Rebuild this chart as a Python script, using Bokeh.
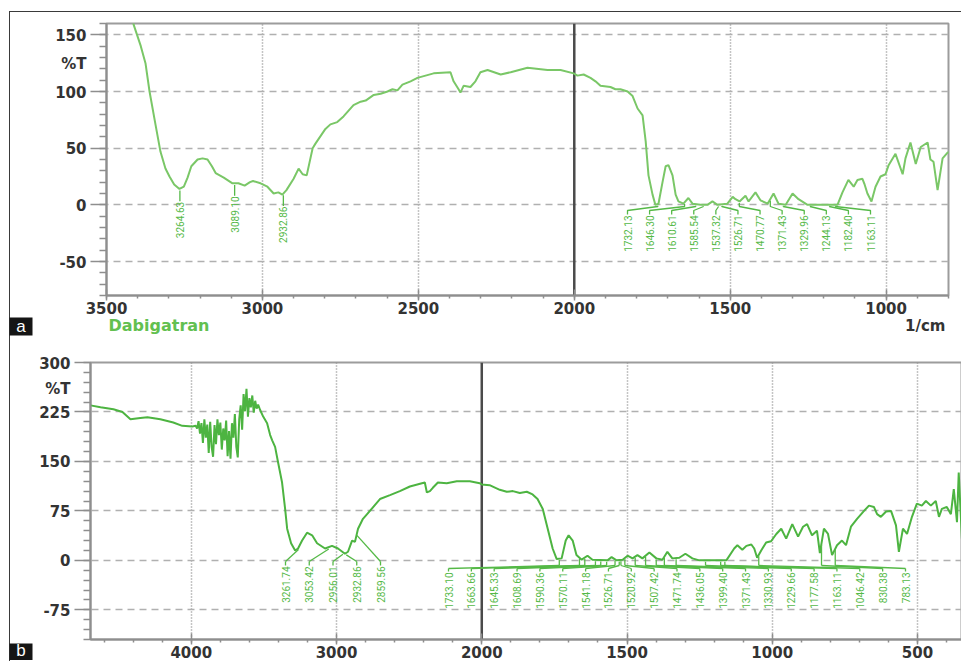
import numpy as np
from bokeh.plotting import figure
from bokeh.models import (ColumnDataSource, FixedTicker, Span, Range1d,
                          CustomJSTransform, CustomJSTickFormatter)
from bokeh.transform import transform
from bokeh.core.properties import value
from bokeh.embed import file_html
from bokeh.resources import INLINE

# ---------------- data: panel a (Dabigatran) ----------------
a_wn = [3440, 3413, 3390, 3375, 3362, 3343, 3327, 3311, 3298, 3283,
        3266, 3252, 3240, 3228, 3208, 3192, 3176, 3162, 3150, 3124,
        3096, 3077, 3057, 3040, 3030, 3006, 2984, 2964, 2949, 2936,
        2923, 2900, 2884, 2871, 2858, 2839, 2830, 2798, 2782, 2760,
        2740, 2708, 2685, 2669, 2643, 2621, 2599, 2583, 2567, 2551,
        2525, 2503, 2451, 2397, 2387, 2371, 2365, 2355, 2333, 2317,
        2301, 2278, 2236, 2204, 2150, 2086, 2044, 2002, 1990, 1970,
        1948, 1932, 1916, 1884, 1868, 1852, 1829, 1813, 1797, 1781,
        1771, 1762, 1749, 1740, 1730, 1717, 1707, 1698, 1685, 1675,
        1666, 1650, 1634, 1621, 1595, 1573, 1557, 1541, 1509, 1492,
        1483, 1470, 1451, 1441, 1419, 1403, 1380, 1361, 1345, 1322,
        1300, 1281, 1252, 1156, 1140, 1121, 1104, 1092, 1076, 1069,
        1060, 1047, 1034, 1018, 1002, 992, 970, 947, 938, 922,
        905, 889, 867, 858, 848, 835, 819, 803, 795]
a_t = [195, 159, 140, 125, 100, 71, 47, 32, 25, 18,
       14, 16, 24, 34, 40, 41, 40, 34, 28, 24,
       19, 19, 17, 20, 21, 19, 16, 10, 11, 9,
       13, 23, 32, 27, 26, 50, 54, 67, 71, 73,
       78, 88, 91, 92, 97, 98, 100, 102, 101, 106,
       109, 112, 116, 117, 109, 102, 99, 105, 104, 109,
       117, 119, 115, 117, 121, 119, 119, 116, 114, 115,
       112, 109, 105, 104, 102, 102, 100, 96, 85, 79,
       56, 26, 9, 0, 1, 20, 34, 35, 26, 9,
       3, 1, 6, 1, 0, 0, 3, 0, 1, 7,
       5, 3, 8, 3, 11, 4, 1, 10, 1, 0,
       10, 5, 0, 0, 11, 22, 16, 22, 23, 18,
       10, 3, 16, 25, 27, 35, 45, 27, 41, 55,
       36, 51, 55, 40, 38, 13, 41, 46, 47]
a_peaks_left = [3264.63, 3089.10, 2932.86]
a_peaks_right = [1732.13, 1646.30, 1610.61, 1585.54, 1537.32, 1526.71,
                 1470.77, 1371.43, 1329.96, 1244.13, 1182.40, 1163.11]
a_xticks = [3500, 3000, 2500, 2000, 1500, 1000]
a_yticks = [-50, 0, 50, 100, 150]
a_name = "Dabigatran"
x_unit = "1/cm"
y_unit = "%T"

# ---------------- data: panel b ----------------
b_wn = [4694, 4625, 4536, 4474, 4419, 4351, 4302, 4213, 4124, 4062,
        3993, 3970, 3960, 3950, 3940, 3930, 3920, 3910, 3900, 3890,
        3880, 3870, 3860, 3850, 3840, 3830, 3820, 3810, 3800, 3790,
        3780, 3770, 3760, 3750, 3740, 3730, 3720, 3710, 3700, 3690,
        3680, 3670, 3660, 3650, 3640, 3630, 3620, 3610, 3600, 3590,
        3580, 3570, 3560, 3550, 3540, 3526, 3505, 3478, 3457, 3443,
        3423, 3402, 3375, 3354, 3340, 3313, 3285, 3265, 3237, 3203,
        3168, 3134, 3079, 3031, 2990, 2942, 2921, 2893, 2873, 2852,
        2818, 2770, 2701, 2632, 2564, 2495, 2412, 2392, 2378, 2357,
        2337, 2302, 2241, 2172, 2082, 2014, 2000, 1973, 1938, 1914,
        1893, 1869, 1845, 1825, 1808, 1790, 1773, 1756, 1742, 1725,
        1711, 1701, 1687, 1674, 1656, 1636, 1619, 1567, 1553, 1536,
        1515, 1498, 1481, 1464, 1447, 1423, 1399, 1378, 1361, 1344,
        1320, 1299, 1275, 1251, 1158, 1131, 1120, 1103, 1089, 1072,
        1062, 1052, 1038, 1021, 1004, 986, 969, 952, 931, 911,
        894, 880, 863, 846, 836, 822, 808, 794, 777, 760,
        746, 729, 708, 684, 667, 650, 639, 626, 608, 591,
        574, 564, 550, 536, 519, 502, 485, 471, 454, 437,
        426, 416, 399, 385, 375, 364, 358, 347]
b_t = [235, 232, 229, 225, 214, 216, 217, 214, 209, 204,
       203, 204, 200, 211, 192, 208, 178, 214, 186, 206,
       163, 210, 172, 157, 205, 176, 214, 190, 209, 168,
       200, 182, 212, 158, 196, 154, 208, 186, 222, 172,
       156, 214, 235, 198, 252, 226, 260, 218, 246, 232,
       250, 224, 242, 230, 236, 228, 218, 208, 190, 182,
       172, 148, 118, 78, 48, 26, 15, 18, 30, 42,
       38, 26, 18, 22, 18, 10, 13, 30, 28, 48,
       63, 75, 93, 99, 105, 112, 117, 118, 103, 105,
       110, 118, 117, 120, 120, 117, 115, 114, 107, 104,
       105, 102, 104, 100, 93, 78, 48, 18, 2, 3,
       30, 38, 30, 8, 1, 7, 1, 0, 5, 0,
       1, 7, 3, 8, 3, 12, 3, 1, 13, 3,
       4, 10, 3, 0, 0, 18, 23, 16, 22, 24,
       18, 4, 15, 27, 29, 40, 48, 33, 55, 36,
       51, 55, 38, 45, 11, 48, 40, 8, 23, 30,
       23, 51, 63, 75, 83, 81, 70, 66, 74, 75,
       53, 13, 48, 40, 66, 86, 83, 90, 83, 90,
       66, 78, 81, 70, 108, 58, 133, 33]
b_peaks_left = [3261.74, 3053.42, 2956.01, 2932.86, 2859.56]
b_peaks_right = [1733.10, 1663.66, 1645.33, 1608.69, 1590.36, 1570.11, 1541.18,
                 1526.71, 1520.92, 1507.42, 1471.74, 1436.05, 1399.40, 1371.43,
                 1330.93, 1229.66, 1177.58, 1163.11, 1046.42, 830.38, 783.13]
b_xticks = [4000, 3000, 2000, 1500, 1000, 500]
b_yticks = [-75, 0, 75, 150, 225, 300]
panel_tags = ["a", "b"]

# ---------------- styles ----------------
GREEN_A = "#7ac767"
GREEN_B = "#4db441"
LABEL_GREEN = "#55b947"
AXIS_GRAY = "#8e8e8e"
FRAME = "1px solid #3a3a3a"
TICK_FONT = "DejaVu Sans"
PEAK_FONT = "Roboto"

# page geometry (figures start at page x=10, y=12)
OX, OY = 10, 12
A_H, B_H, W = 324, 326, 952


def curve_at(w, wn, t):
    return float(np.interp(w, wn[::-1], t[::-1]))


def disp(w):
    # panel b uses the classic IR scale change at 2000 1/cm (x2 compression above)
    return 2000 + (w - 2000) / 2.0 if w > 2000 else w


ir_scale = CustomJSTransform(
    func="return x > 2000 ? 2000 + (x - 2000) / 2 : x;",
    v_func="const out = new Float64Array(xs.length); for (let i = 0; i < xs.length; i++) { const x = xs[i]; out[i] = x > 2000 ? 2000 + (x - 2000) / 2 : x; } return out;")


def style_axes(p):
    for ax in (p.xaxis[0], p.yaxis[0]):
        ax.axis_line_color = AXIS_GRAY
        ax.axis_line_width = 2
        ax.major_tick_line_color = AXIS_GRAY
        ax.major_tick_line_width = 1.5
        ax.minor_tick_line_color = AXIS_GRAY
        ax.minor_tick_line_width = 1.5
        ax.major_label_text_font = TICK_FONT
        ax.major_label_text_font_style = "bold"
        ax.major_label_text_font_size = "15px"
        ax.major_label_text_color = "#333333"
    xa = p.xaxis[0]
    xa.major_tick_in = 6
    xa.major_tick_out = 5
    xa.minor_tick_in = 0
    xa.minor_tick_out = 3
    xa.major_label_standoff = 1
    ya = p.yaxis[0]
    ya.major_tick_in = 0
    ya.major_tick_out = 16
    ya.minor_tick_in = 0
    ya.minor_tick_out = 7
    ya.major_label_standoff = 4
    ya.formatter = CustomJSTickFormatter(code="return String(Math.round(tick));")
    p.outline_line_color = "#9c9c9c"
    p.outline_line_width = 2
    p.xgrid.grid_line_color = "#8a8a8a"
    p.xgrid.grid_line_dash = "1 2"
    p.xgrid.grid_line_width = 1.5
    p.ygrid.grid_line_color = "#b0b0b0"
    p.ygrid.grid_line_dash = "7 5"
    p.ygrid.grid_line_width = 1.5


# ================= panel a =================
A_L, A_R, A_T, A_B = 106, 948, 23, 295
A_X0, A_X1, A_Y0, A_Y1 = 3500, 800, -80, 160
A_TOP = OY


def ax_(px):
    return A_X0 - (px - A_L) * (A_X0 - A_X1) / (A_R - A_L)


def ay_(py):
    return A_Y1 - (py - A_T) * (A_Y1 - A_Y0) / (A_B - A_T)


p1 = figure(width=W, height=A_H, x_range=Range1d(A_X0, A_X1), y_range=Range1d(A_Y0, A_Y1),
            output_backend="svg", toolbar_location=None,
            min_border_left=A_L - OX, min_border_right=OX + W - A_R,
            min_border_top=A_T - A_TOP, min_border_bottom=A_TOP + A_H - A_B,
            background_fill_color="white", border_fill_color="white")
style_axes(p1)
p1.xaxis.ticker = FixedTicker(ticks=a_xticks, minor_ticks=list(range(800, 3501, 100)))
p1.yaxis.ticker = FixedTicker(ticks=a_yticks, minor_ticks=list(range(-80, 161, 10)))
p1.xgrid.ticker = FixedTicker(ticks=[t for t in a_xticks if t not in (3500, 2000)])
p1.ygrid.ticker = FixedTicker(ticks=a_yticks)
p1.add_layout(Span(location=2000, dimension="height", line_color="#4a4a4a",
                   line_width=2.5, level="underlay"))

wn_a = np.array(a_wn, dtype=float)
t_a = np.array(a_t, dtype=float)
p1.line(x=a_wn, y=a_t, line_color=GREEN_A, line_width=2)

# left peak labels (directly under the minima)
ycl = [curve_at(w, wn_a, t_a) for w in a_peaks_left]
p1.multi_line(xs=[[w, w] for w in a_peaks_left],
              ys=[[y - 1.5, y - 11] for y in ycl], line_color=LABEL_GREEN, line_width=1.3)
p1.text(x=a_peaks_left, y=[y - 11.5 for y in ycl], text=[f"{w:.2f}" for w in a_peaks_left],
        angle=np.pi / 2, text_align="right", text_baseline="middle",
        text_font=value(PEAK_FONT), text_font_size="10px", text_color=LABEL_GREEN)

# right cluster (spread labels with leaders)
lx_a = np.linspace(ax_(627), ax_(870), len(a_peaks_right))
ycr = [curve_at(w, wn_a, t_a) for w in a_peaks_right]
p1.multi_line(xs=[[w, w, lx, lx] for w, lx in zip(a_peaks_right, lx_a)],
              ys=[[y - 1.5, ay_(206), ay_(210), ay_(214)] for y in ycr],
              line_color=LABEL_GREEN, line_width=1.3)
p1.text(x=list(lx_a), y=[ay_(215)] * len(lx_a), text=[f"{w:.2f}" for w in a_peaks_right],
        angle=np.pi / 2, text_align="right", text_baseline="middle",
        text_font=value(PEAK_FONT), text_font_size="10px", text_color=LABEL_GREEN)

# ================= panel b =================
B_L, B_R, B_T, B_B = 90, 962, 363, 640
B_X0, B_X1, B_Y0, B_Y1 = 3347, 345, -120, 300
B_TOP = OY + A_H


def bx_(px):
    return B_X0 - (px - B_L) * (B_X0 - B_X1) / (B_R - B_L)


def by_(py):
    return B_Y1 - (py - B_T) * (B_Y1 - B_Y0) / (B_B - B_T)


p2 = figure(width=W, height=B_H, x_range=Range1d(B_X0, B_X1), y_range=Range1d(B_Y0, B_Y1),
            output_backend="svg", toolbar_location=None,
            min_border_left=B_L - OX, min_border_right=OX + W - B_R,
            min_border_top=B_T - B_TOP, min_border_bottom=B_TOP + B_H - B_B,
            background_fill_color="white", border_fill_color="white")
style_axes(p2)
p2.xaxis.ticker = FixedTicker(ticks=[disp(w) for w in b_xticks],
                              minor_ticks=list(range(300, 3400, 100)))
p2.xaxis.formatter = CustomJSTickFormatter(
    code="const w = tick > 2000 ? 2000 + (tick - 2000) * 2 : tick; return String(Math.round(w));")
p2.yaxis.ticker = FixedTicker(ticks=b_yticks, minor_ticks=list(range(-120, 301, 15)))
p2.xgrid.ticker = FixedTicker(ticks=[disp(w) for w in b_xticks if w != 2000])
p2.ygrid.ticker = FixedTicker(ticks=[t for t in b_yticks if t != 300])
p2.add_layout(Span(location=2000, dimension="height", line_color="#4a4a4a",
                   line_width=2.5, level="underlay"))

wn_b = np.array(b_wn, dtype=float)
t_b = np.array(b_t, dtype=float)
src_b = ColumnDataSource(data=dict(wn=b_wn, t=b_t))
p2.line(x=transform("wn", ir_scale), y="t", source=src_b, line_color=GREEN_B, line_width=2)


def add_b_labels(peaks, lx, drop, y_b, y_c, y_d, y_text):
    yc = [curve_at(w, wn_b, t_b) for w in peaks]
    src = ColumnDataSource(data=dict(
        pk=peaks, lx=list(lx),
        ya=[y - drop for y in yc], yb=[min(y - drop, y_b) for y in yc],
        yc2=[y_c] * len(peaks), yd=[y_d] * len(peaks), yt=[y_text] * len(peaks),
        lab=[f"{w:.2f}" for w in peaks]))
    kw = dict(line_color=LABEL_GREEN, line_width=1.3, source=src)
    p2.segment(x0=transform("pk", ir_scale), y0="ya", x1=transform("pk", ir_scale), y1="yb", **kw)
    p2.segment(x0=transform("pk", ir_scale), y0="yb", x1="lx", y1="yc2", **kw)
    p2.segment(x0="lx", y0="yc2", x1="lx", y1="yd", **kw)
    p2.text(x="lx", y="yt", text="lab", source=src, angle=np.pi / 2, text_align="right",
            text_baseline="middle", text_font=value(PEAK_FONT), text_font_size="10px",
            text_color=LABEL_GREEN)


add_b_labels(b_peaks_left, np.linspace(bx_(285), bx_(380), len(b_peaks_left)),
             3, 1000, by_(562), by_(566), by_(567))
add_b_labels(b_peaks_right, np.linspace(bx_(448), bx_(905), len(b_peaks_right)),
             2, by_(566), by_(569), by_(572), by_(573))

# ================= transparent overlay for the free texts (page pixel coordinates) =================
ov = figure(width=960, height=660, x_range=Range1d(0, 960), y_range=Range1d(660, 0),
            x_axis_type=None, y_axis_type=None, output_backend="svg", toolbar_location=None,
            min_border=0, background_fill_color=None, border_fill_color=None,
            outline_line_color=None)
common = dict(text_font=value(TICK_FONT), text_font_style="bold")
ov.text(x=[86, 70], y=[63, 388], text=[y_unit, y_unit], text_align="right",
        text_baseline="middle", text_font_size="15px", text_color="#333333", **common)
ov.text(x=[108], y=[325], text=[a_name], text_align="left", text_baseline="alphabetic",
        text_font_size="16px", text_color="#62c050", **common)
ov.text(x=[945], y=[325], text=[x_unit], text_align="right", text_baseline="alphabetic",
        text_font_size="15px", text_color="#333333", **common)
ov.quad(left=[9, 9], right=[32, 32], top=[317, 643], bottom=[335, 660],
        fill_color="#151515", line_color=None)
ov.text(x=[20.5, 20.5], y=[326, 650], text=panel_tags, text_align="center",
        text_baseline="middle", text_font=value("Liberation Sans"), text_font_size="17px",
        text_color="white")
ov.styles = {"position": "absolute", "left": "0px", "top": "0px"}

# two independent roots so that the two plot frames are not aligned to each other
p1.styles = {"margin-left": "9px", "margin-top": "11px",
             "border-left": FRAME, "border-top": FRAME}
p2.styles = {"margin-left": "9px", "border-left": FRAME}

open("out.html", "w").write(file_html([p1, p2, ov], INLINE))
